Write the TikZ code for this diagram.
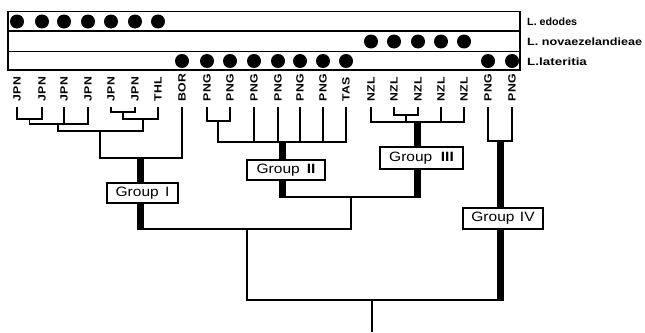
\documentclass[tikz,border=0pt]{standalone}
\usepackage{fontspec}
\usepackage{graphicx}
\setmainfont{Liberation Sans}
% widen a piece of text horizontally, keeping its height
\newcommand\hstretch[2]{\scalebox{#1}[1]{#2}}
\begin{document}
\begin{tikzpicture}[x=1pt,y=-1pt,
  branch/.style={line width=1.6pt, line join=miter},
  trunk/.style={line width=7pt, shorten <=-0.8pt, shorten >=-0.8pt},
  leaf/.style={rotate=90, anchor=west, inner sep=0pt, outer xsep=6pt,
    font=\bfseries\fontsize{10.5}{12}\selectfont},
  grp/.style={draw, fill=white, line width=1.6pt, inner sep=0pt,
    font=\fontsize{13.5}{15}\selectfont},
  taxon/.style={anchor=west, inner sep=0pt,
    font=\bfseries\fontsize{10.5}{12}\selectfont},
  frame/.style={line width=1.8pt}]
\useasboundingbox (0,0) rectangle (645,332);

% species table: three rows, one per species
\draw[frame] (8,11.5) rectangle (520,70);
\draw[frame] (8,31) -- (520,31);
\draw[frame] (8,51.5) -- (520,51.5);
\node[taxon] (sp1) at (527,22) {\hstretch{1.02}{L. edodes}};
\node[taxon] (sp2) at (527,42) {\hstretch{1.2}{L. novaezelandieae}};
\node[taxon] (sp3) at (527,61.5) {\hstretch{1.28}{L.lateritia}};

% membership dots
\foreach \x in {17,42,64,88,111,135,158}
  \fill (\x,21.5) circle (7pt);
\foreach \x in {371,394,418,441,464}
  \fill (\x,41.5) circle (7pt);
\foreach \x in {182,207,230,254,278,300,323,346,488,512}
  \fill (\x,61) circle (7pt);

% strain labels
\foreach \n/\x/\t in {j1/17/JPN, j2/42/JPN, j3/64/JPN, j4/88/JPN, j5/111/JPN,
    j6/135/JPN, thl/158/THL, bor/182/BOR, p1/207/PNG, p2/230/PNG, p3/254/PNG,
    p4/278/PNG, p5/300/PNG, p6/323/PNG, tas/346/TAS, n1/371/NZL, n2/394/NZL,
    n3/418/NZL, n4/441/NZL, n5/464/NZL, p7/488/PNG, p8/512/PNG}
  \node[leaf] (\n) at (\x,107) {\hstretch{1.17}{\t}};

% internal junctions of the tree
\coordinate (a12) at (29.5,119);
\coordinate (a1234) at (58,124);
\coordinate (a56) at (123,112);
\coordinate (a567) at (143,119);
\coordinate (aJ) at (100,131);
\coordinate (g1) at (140.5,158);
\coordinate (p12) at (218,121);
\coordinate (g2) at (282.5,142);
\coordinate (n23) at (406,115);
\coordinate (g3) at (417,122);
\coordinate (g23) at (351,197);
\coordinate (g123) at (247,229);
\coordinate (g4) at (500,141);
\coordinate (root) at (372,300);
\coordinate (base) at (372,332);

% group I
\draw[branch] (j1.west) |- (a12) -| (j2.west);
\draw[branch] (a12) |- (a1234) -| (j4.west);
\draw[branch] (j3.west) -- (j3.west |- a1234);
\draw[branch] (j5.west) |- (a56) -| (j6.west);
\draw[branch] (a56) |- (a567) -| (thl.west);
\draw[branch] (a1234) |- (aJ) -| (a567);
\draw[branch] (aJ) |- (g1) -| (bor.west);

% group II
\draw[branch] (p1.west) |- (p12) -| (p2.west);
\draw[branch] (p12) |- (g2) -| (tas.west);
\foreach \n in {p3,p4,p5,p6}
  \draw[branch] (\n.west) -- (\n.west |- g2);

% group III
\draw[branch] (n2.west) |- (n23) -| (n3.west);
\draw[branch] (n1.west) |- (g3) -| (n5.west);
\draw[branch] (n23) -- (n23 |- g3);
\draw[branch] (n4.west) -- (n4.west |- g3);

% group IV
\draw[branch] (p7.west) |- (g4) -| (p8.west);

% deeper branches
\draw[branch] (g2 |- g23) -- (g3 |- g23);
\draw[branch] (g1 |- g123) -| (g23);
\draw[branch] (g123) |- (root) -- (g4 |- root);
\draw[branch] (root) -- (base);

% thick group stems
\draw[trunk] (g1) -- (g1 |- g123);
\draw[trunk] (g2) -- (g2 |- g23);
\draw[trunk] (g3) -- (g3 |- g23);
\draw[trunk] (g4) -- (g4 |- root);

% group labels
\node[grp, minimum width=71pt, minimum height=20pt] (G1) at (142.5,193)
  {\hstretch{1.15}{Group\hspace{0.4em}I}};
\node[grp, minimum width=78pt, minimum height=20pt] (G2) at (286,170)
  {\hstretch{1.15}{Group\hspace{0.45em}\textbf{II}}};
\node[grp, minimum width=83pt, minimum height=22pt] (G3) at (421.5,158)
  {\hstretch{1.15}{Group\hspace{0.55em}\textbf{III}}};
\node[grp, minimum width=80pt, minimum height=21pt] (G4) at (503,218.5)
  {\hstretch{1.15}{Group\hspace{0.35em}IV}};
\end{tikzpicture}
\end{document}
